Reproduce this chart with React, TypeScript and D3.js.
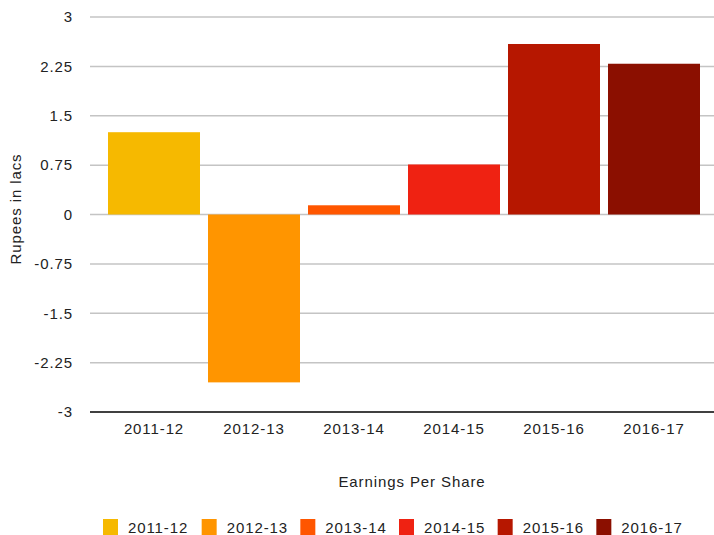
import React from "react";
import * as d3 from "d3";

const categories = ["2011-12", "2012-13", "2013-14", "2014-15", "2015-16", "2016-17"];
const values = [1.25, -2.55, 0.14, 0.76, 2.59, 2.29];
const colors = ["#F6B900", "#FF9500", "#FF5600", "#EF2212", "#B61700", "#8B0F00"];
const yTicks = [-3, -2.25, -1.5, -0.75, 0, 0.75, 1.5, 2.25, 3];
const yTickLabels = ["-3", "-2.25", "-1.5", "-0.75", "0", "0.75", "1.5", "2.25", "3"];

const W = 714;
const H = 535;
const FONT = "'Liberation Sans', Arial, Helvetica, sans-serif";
const FS = 15;
const LS = 0.9;

export default function App() {
  const x = d3.scaleBand<string>().domain(categories).range([104, 704]).paddingInner(0.08).paddingOuter(0.04);
  const y = d3.scaleLinear().domain([-3, 3]).range([412, 17]);
  const gridLeft = 90;
  const gridRight = 714;
  const legendX = d3.scaleBand<string>().domain(categories).range([103, 695]);

  return (
    <svg width={W} height={H} style={{ position: "absolute", left: 0, top: 0, background: "#fff" }} fontFamily={FONT}>
      {yTicks.map((t, i) => (
        <g key={t}>
          <line
            x1={gridLeft}
            x2={gridRight}
            y1={y(t)}
            y2={y(t)}
            stroke={t === -3 ? "#000" : "#c4c4c4"}
            strokeWidth={1.5}
          />
          <text x={73} y={y(t)} dy="0.35em" textAnchor="end" fontSize={FS} letterSpacing={LS} fill="#222">
            {yTickLabels[i]}
          </text>
        </g>
      ))}
      {categories.map((c, i) => (
        <rect
          key={c}
          x={x(c)}
          width={x.bandwidth()}
          y={Math.min(y(values[i]), y(0))}
          height={Math.abs(y(values[i]) - y(0))}
          fill={colors[i]}
        />
      ))}
      {categories.map((c) => (
        <text key={c} x={(x(c) as number) + x.bandwidth() / 2} y={434} textAnchor="middle" fontSize={FS} letterSpacing={LS} fill="#222">
          {c}
        </text>
      ))}
      <text x={412} y={487} textAnchor="middle" fontSize={FS} letterSpacing={LS} fill="#222">
        Earnings Per Share
      </text>
      <text transform={`translate(21,209) rotate(-90)`} textAnchor="middle" fontSize={FS} letterSpacing={LS} fill="#222">
        Rupees in lacs
      </text>
      {categories.map((c, i) => (
        <g key={c} transform={`translate(${legendX(c)},0)`}>
          <rect x={0} y={519} width={15} height={16} fill={colors[i]} />
          <text x={25} y={533} fontSize={FS} letterSpacing={LS} fill="#222">
            {c}
          </text>
        </g>
      ))}
    </svg>
  );
}
